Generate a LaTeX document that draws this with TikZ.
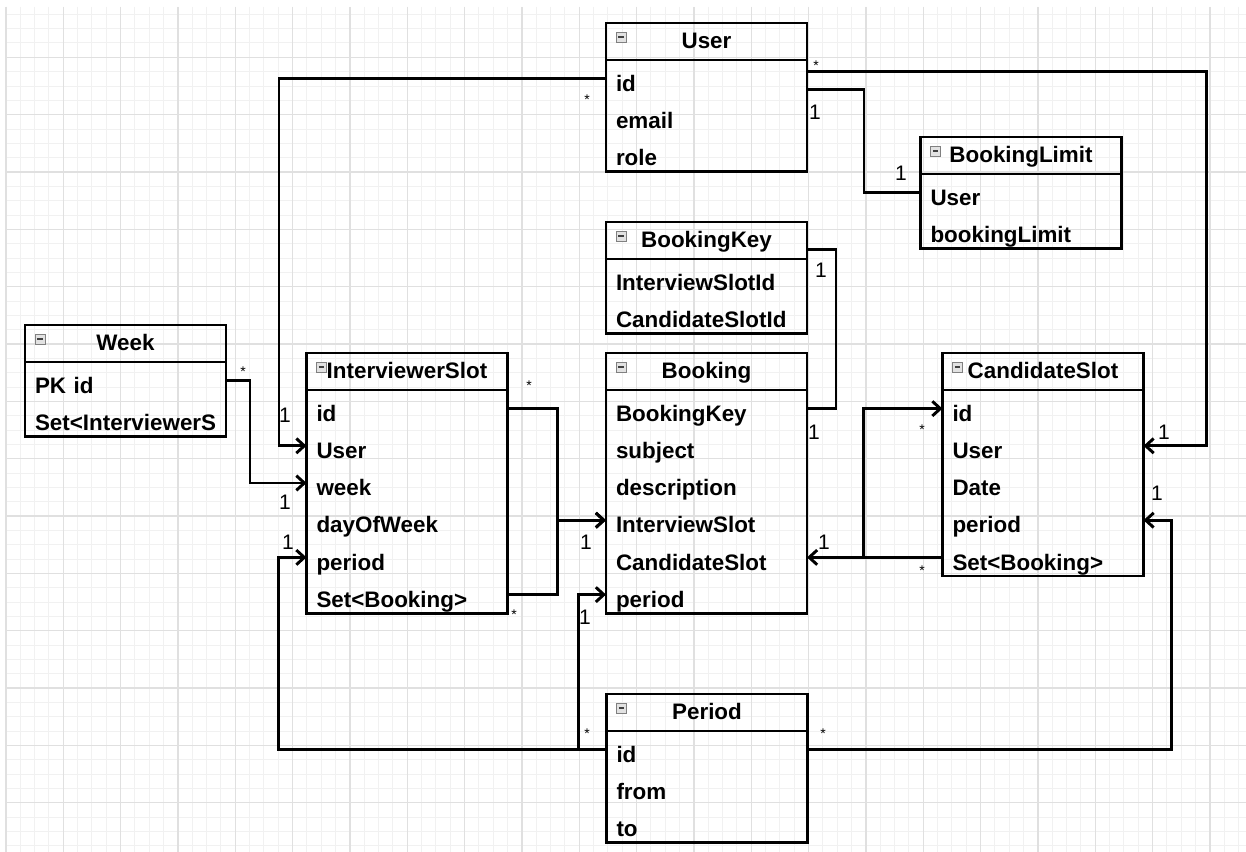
\documentclass[tikz,border=0pt]{standalone}
\usepackage{fontspec}
\setmainfont{Liberation Sans}
\usetikzlibrary{arrows.meta,positioning,calc}

\definecolor{gridmajor}{RGB}{224,224,224}
\definecolor{gridminor}{RGB}{241,241,241}
\definecolor{iconfill}{RGB}{226,226,226}
\definecolor{icondraw}{RGB}{128,128,128}

\tikzset{
  clshead/.style={draw, line width=2.2pt, outer sep=0pt, inner sep=0pt, anchor=north west,
    minimum width=150.75pt, minimum height=27.75pt, text height=12pt, text depth=1pt,
    font=\bfseries\fontsize{16.8}{20}\selectfont},
  clsrow/.style={outer sep=0pt, inner sep=0pt, anchor=north west, text width=150.75pt, align=left,
    text height=23.4pt, text depth=4.5pt, font=\bfseries\fontsize{16.8}{20}\selectfont,
    execute at begin node={\noindent\hspace*{7.5pt}}},
  clsframe/.style={line width=2.2pt},
  clsicon/.style={draw=icondraw, fill=iconfill, line width=0.6pt, minimum size=7.5pt,
    inner sep=0pt, outer sep=0pt,
    path picture={\draw[black!75, line width=0.9pt]
      ([xshift=1.7pt]path picture bounding box.west) -- ([xshift=-1.7pt]path picture bounding box.east);}},
  link/.style={line width=2.2pt},
  linkto/.style={link, -{Straight Barb[length=6pt,width=11pt]}},
  one/.style={font=\fontsize{15.75}{16}\selectfont},
  many/.style={font=\fontsize{10.5}{12}\selectfont},
}

\begin{document}
\begin{tikzpicture}[x=0.75pt, y=-0.75pt]
    \useasboundingbox (0,0) rectangle (1246,852);
    \fill[white] (0,0) rectangle (1246,852);

    % background grid
    \foreach \gx in {6,20.333,...,1246}
        \draw[gridminor, line width=0.75pt] (\gx,7) -- (\gx,852);
    \foreach \gy in {14.333,28.667,...,852}
        \draw[gridminor, line width=0.75pt] (6,\gy) -- (1246,\gy);
    \foreach \gx in {6,63.333,...,1246}
        \draw[gridmajor, line width=1.1pt] (\gx,7) -- (\gx,852);
    \foreach \gy in {57.333,114.667,...,852}
        \draw[gridmajor, line width=1.1pt] (6,\gy) -- (1246,\gy);

    % User
    \node[clshead] (user) at (606,23) {User};
    \node[clsicon] (user-icon) at ($(user.north west)+(15,14)$) {};
    \foreach \n/\f [count=\i] in {id/id,email/email,role/role}
        \node[clsrow] (user-\n) at ($(user.south west)+(0,{37.2*(\i-1)})$) {\f};
    \draw[clsframe] (user.south west) rectangle (user-role.south east);

    % BookingLimit
    \node[clshead] (blimit) at (920.5,137) {BookingLimit};
    \node[clsicon] (blimit-icon) at ($(blimit.north west)+(15,14)$) {};
    \foreach \n/\f [count=\i] in {user/User,limit/bookingLimit}
        \node[clsrow] (blimit-\n) at ($(blimit.south west)+(0,{37.2*(\i-1)})$) {\f};
    \draw[clsframe] (blimit.south west) rectangle (blimit-limit.south east);

    % BookingKey
    \node[clshead] (bkey) at (606,222) {BookingKey};
    \node[clsicon] (bkey-icon) at ($(bkey.north west)+(15,14)$) {};
    \foreach \n/\f [count=\i] in {islot/InterviewSlotId,cslot/CandidateSlotId}
        \node[clsrow] (bkey-\n) at ($(bkey.south west)+(0,{37.2*(\i-1)})$) {\f};
    \draw[clsframe] (bkey.south west) rectangle (bkey-cslot.south east);

    % Booking
    \node[clshead] (bk) at (606,353) {Booking};
    \node[clsicon] (bk-icon) at ($(bk.north west)+(15,14)$) {};
    \foreach \n/\f [count=\i] in {key/BookingKey,subject/subject,desc/description,
        islot/InterviewSlot,cslot/CandidateSlot,period/period}
        \node[clsrow] (bk-\n) at ($(bk.south west)+(0,{37.2*(\i-1)})$) {\f};
    \draw[clsframe] (bk.south west) rectangle (bk-period.south east);

    % CandidateSlot
    \node[clshead] (cs) at (942.5,353) {CandidateSlot};
    \node[clsicon] (cs-icon) at ($(cs.north west)+(15,14)$) {};
    \foreach \n/\f [count=\i] in {id/id,user/User,date/Date,period/period,set/Set<Booking>}
        \node[clsrow] (cs-\n) at ($(cs.south west)+(0,{37.2*(\i-1)})$) {\f};
    \draw[clsframe] (cs.south west) rectangle (cs-set.south east);

    % InterviewerSlot
    \node[clshead] (ivs) at (306.5,353) {InterviewerSlot};
    \node[clsicon] (ivs-icon) at ($(ivs.north west)+(15,14)$) {};
    \foreach \n/\f [count=\i] in {id/id,user/User,week/week,day/dayOfWeek,period/period,set/Set<Booking>}
        \node[clsrow] (ivs-\n) at ($(ivs.south west)+(0,{37.2*(\i-1)})$) {\f};
    \draw[clsframe] (ivs.south west) rectangle (ivs-set.south east);

    % Week
    \node[clshead] (wk) at (25,325) {Week};
    \node[clsicon] (wk-icon) at ($(wk.north west)+(15,14)$) {};
    \foreach \n/\f [count=\i] in {pk/PK id,set/Set<InterviewerS}
        \node[clsrow] (wk-\n) at ($(wk.south west)+(0,{37.2*(\i-1)})$) {\f};
    \draw[clsframe] (wk.south west) rectangle (wk-set.south east);

    % Period
    \node[clshead] (pd) at (606.5,694) {Period};
    \node[clsicon] (pd-icon) at ($(pd.north west)+(15,14)$) {};
    \foreach \n/\f [count=\i] in {id/id,from/from,to/to}
        \node[clsrow] (pd-\n) at ($(pd.south west)+(0,{37.2*(\i-1)})$) {\f};
    \draw[clsframe] (pd.south west) rectangle (pd-to.south east);

    % associations
    \draw[linkto] (user-id.west) -- ++(-327,0) |- (ivs-user.west);
    \draw[linkto] ([yshift=5pt]user-id.east) -- ++(399.5,0) |- (cs-user.east);
    \draw[link] ([yshift=-8.5pt]user-id.east) -- ++(57,0) |- (blimit-user.west);
    \draw[link] ([yshift=-7pt]bkey.east) -- ++(29,0) |- (bk-key.east);
    \draw[linkto] (wk-pk.east) -- ++(24,0) |- (ivs-week.west);
    \draw[linkto] (pd-id.west) -- ++(-328,0) |- (ivs-period.west);
    \draw[linkto] (pd-id.west) -- ++(-28,0) |- (bk-period.west);
    \draw[linkto] (pd-id.east) -- ++(364,0) |- (cs-period.east);
    \draw[linkto] (ivs-id.east) -- ++(50,0) |- (bk-islot.west);
    \draw[linkto] (ivs-set.east) -- ++(50,0) |- (bk-islot.west);
    \draw[linkto] (cs-set.west) -- (bk-cslot.east);
    \draw[linkto] (cs-set.west) -- ++(-79,0) |- (cs-id.west);

    % multiplicities
    \node[many] (m-user-ivs) at (587,100) {*};
    \node[one] (m-ivs-user) at (285,415) {1};
    \node[many] (m-user-cs) at (816,66) {*};
    \node[one] (m-cs-user) at (1164,432) {1};
    \node[one] (m-user-bl) at (815,112) {1};
    \node[one] (m-bl-user) at (901,173) {1};
    \node[one] (m-bkey-bk) at (821,270) {1};
    \node[one] (m-bk-bkey) at (814,432) {1};
    \node[many] (m-wk-ivs) at (243,372) {*};
    \node[one] (m-ivs-wk) at (285,502) {1};
    \node[one] (m-ivs-pd) at (288,542) {1};
    \node[many] (m-pd-left) at (587,734) {*};
    \node[one] (m-bk-pd) at (585,617) {1};
    \node[many] (m-pd-cs) at (823,734) {*};
    \node[one] (m-cs-pd) at (1157,493) {1};
    \node[many] (m-ivs-id) at (529,386) {*};
    \node[many] (m-ivs-set) at (514,615) {*};
    \node[one] (m-bk-ivs) at (586,542) {1};
    \node[many] (m-cs-id) at (922,430) {*};
    \node[many] (m-cs-set) at (922,571) {*};
    \node[one] (m-bk-cs) at (824,542) {1};
\end{tikzpicture}
\end{document}
